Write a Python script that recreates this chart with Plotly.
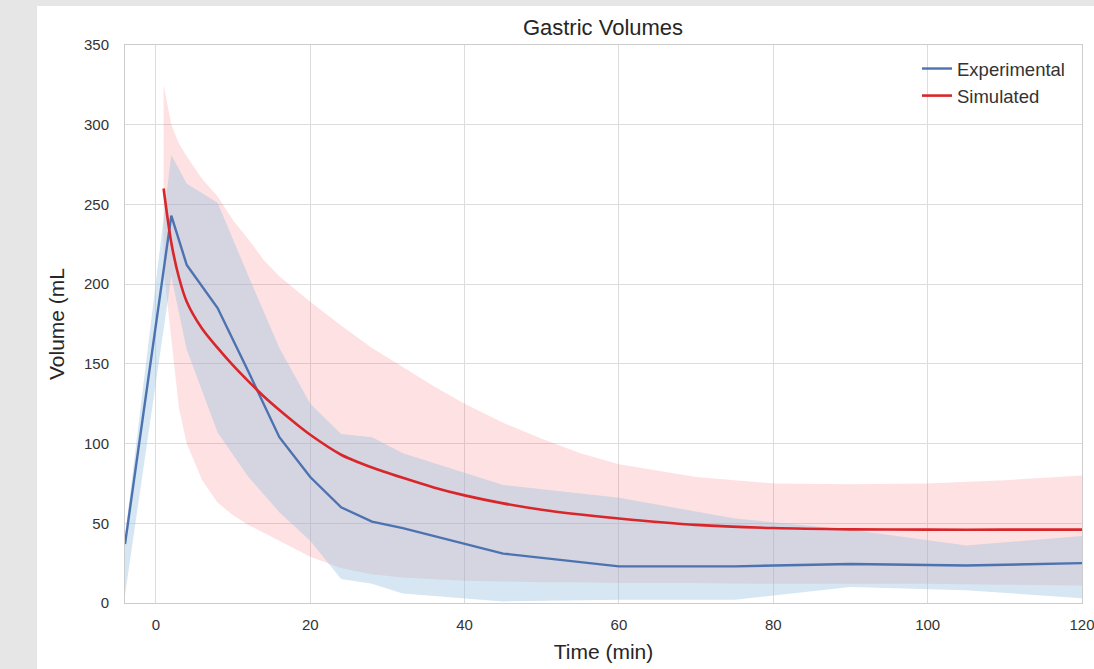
import plotly.graph_objects as go

# Experimental data (mean and band)
t_exp = [-4, 2, 4, 8, 12, 16, 20, 24, 28, 32, 45, 60, 75, 90, 105, 120]
exp_mean = [37, 243, 212, 185, 145, 104, 79, 60, 51, 47, 31, 23, 23, 24.5, 23.5, 25]
exp_upper = [42, 281, 263, 251, 205, 160, 125, 106, 104, 94, 74, 66, 53, 46, 36, 42]
exp_lower = [5, 205, 159, 107, 79, 57, 39, 15, 12, 6, 1, 2, 2, 10, 8, 3]

# Simulated data (mean and band)
t_sim = [1, 2, 3, 4, 6, 8, 10, 12, 14, 16, 18, 20, 24, 28, 32, 36, 40, 45, 50, 55, 60, 70, 80, 90, 100, 110, 120]
sim_mean = [260, 226, 204, 189, 172, 160, 149, 139, 129.5, 121, 113, 105.5, 93, 85, 78.5, 72.5, 67.5, 62.5, 58.5, 55.5, 53, 49, 47, 46.2, 46, 46, 46]
sim_upper = [325, 300, 288, 280, 266, 255, 240, 228, 215, 205, 197, 189, 174, 160, 148, 136, 125, 113, 103, 94, 87, 79, 75, 74.5, 75, 77, 80]
sim_lower = [210, 165, 122, 100, 77, 63, 55, 49, 44, 39, 34, 29, 22, 18, 16, 15, 14, 13.5, 13, 13, 12.5, 12.5, 12, 12, 12, 11.5, 11]

x_ticks = [0, 20, 40, 60, 80, 100, 120]
y_ticks = [0, 50, 100, 150, 200, 250, 300, 350]

BLUE = "#4c72b0"
RED = "#d9262a"
FONT = "Liberation Sans, Arial, sans-serif"

fig = go.Figure()

# Simulated band
fig.add_trace(go.Scatter(x=t_sim, y=sim_lower, mode="lines", line=dict(width=0),
                         showlegend=False, hoverinfo="skip"))
fig.add_trace(go.Scatter(x=t_sim, y=sim_upper, mode="lines", line=dict(width=0),
                         fill="tonexty", fillcolor="rgba(244,80,90,0.17)",
                         showlegend=False, hoverinfo="skip"))
# Experimental band
fig.add_trace(go.Scatter(x=t_exp, y=exp_lower, mode="lines", line=dict(width=0),
                         showlegend=False, hoverinfo="skip"))
fig.add_trace(go.Scatter(x=t_exp, y=exp_upper, mode="lines", line=dict(width=0),
                         fill="tonexty", fillcolor="rgba(152,192,222,0.4)",
                         showlegend=False, hoverinfo="skip"))

fig.add_trace(go.Scatter(x=t_exp, y=exp_mean, mode="lines", name="Experimental",
                         line=dict(color=BLUE, width=2.4), legendgroup="exp"))
fig.add_trace(go.Scatter(x=t_sim, y=sim_mean, mode="lines", name="Simulated",
                         line=dict(color=RED, width=2.6, shape="spline", smoothing=0.8),
                         legendgroup="sim"))

# white figure area (the reference has a grey strip on the left and top)
fig.add_shape(type="rect", xref="paper", yref="paper",
              x0=(37 - 125) / 957, x1=1.2, y0=-0.3, y1=(603 - 6) / 558,
              fillcolor="white", line=dict(width=0), layer="below")

fig.update_layout(
    width=1094, height=669,
    margin=dict(l=125, r=12, t=45, b=66, autoexpand=False),
    paper_bgcolor="#e6e6e6",
    plot_bgcolor="white",
    font=dict(family=FONT, size=14, color="#333333"),
    title=dict(text="Gastric Volumes", x=603 / 1094, xanchor="center",
               y=1 - 27 / 669, yanchor="middle", yref="container",
               font=dict(size=22, color="#262626", family=FONT)),
    legend=dict(x=(917 - 125) / 957, y=(603 - 50) / 558, xanchor="left", yanchor="top",
                bgcolor="rgba(0,0,0,0)", font=dict(size=18.5, color="#333333"),
                tracegroupgap=0, traceorder="grouped"),
    showlegend=True,
    hovermode=False,
)

fig.update_xaxes(range=[-4, 120], tickvals=x_ticks, showgrid=True, gridcolor="#dcdcdc",
                 zeroline=False, showline=True, mirror=True, linecolor="#cccccc", linewidth=1,
                 ticklabelstandoff=8, ticklabeloverflow="allow", automargin=False,
                 tickfont=dict(size=15, color="#333333"),
                 title=dict(text="Time (min)", font=dict(size=21, color="#262626"), standoff=12))
fig.update_yaxes(range=[0, 350], tickvals=y_ticks, showgrid=True, gridcolor="#dcdcdc",
                 zeroline=False, showline=True, mirror=True, linecolor="#cccccc", linewidth=1,
                 ticklabelstandoff=12, automargin=False, tickfont=dict(size=15, color="#333333"),
                 title=dict(text="Volume (mL", font=dict(size=21, color="#262626"), standoff=13))

fig.write_html("out.html", config={"displayModeBar": False},
               post_script="document.body.style.margin='0';document.body.style.overflow='hidden';")
